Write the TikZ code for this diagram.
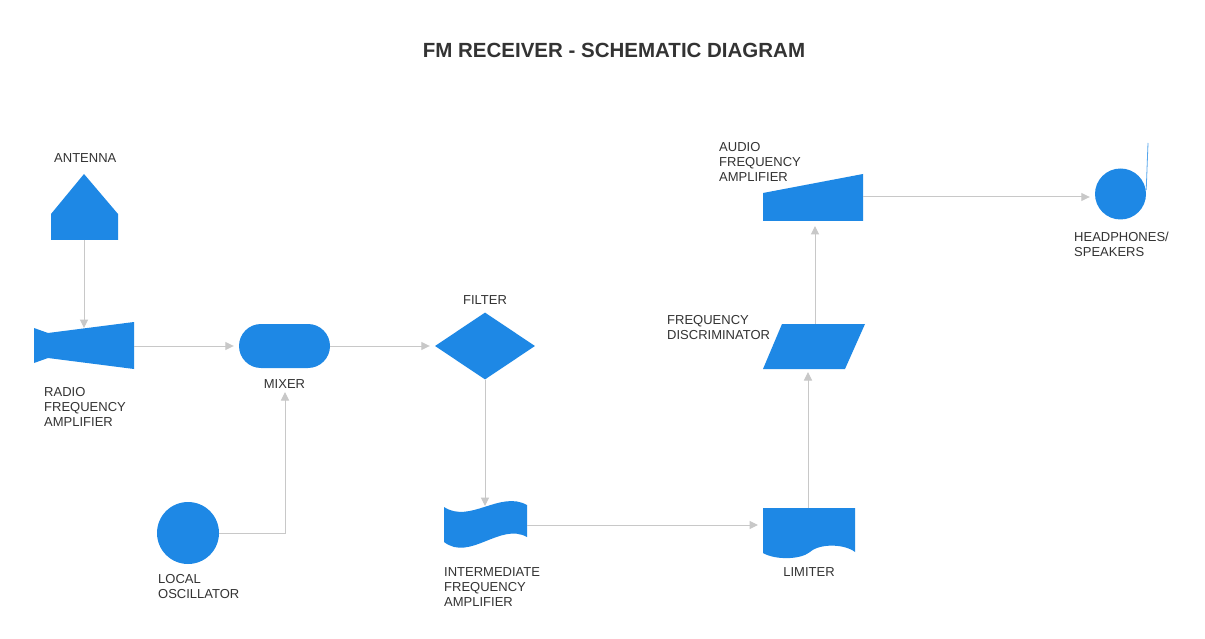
\documentclass[tikz,border=0pt]{standalone}
\usepackage{fontspec}
\setmainfont{Liberation Sans}
\usetikzlibrary{arrows.meta,shapes.geometric,shapes.misc}
\definecolor{blu}{HTML}{1E88E5}
\definecolor{lgray}{HTML}{C8C8C8}
\definecolor{txt}{HTML}{333333}
\tikzset{
 shp/.style={fill=blu,draw=none,inner sep=0pt},
 conn/.style={draw=lgray,line width=1pt,-{Triangle[length=8.5pt,width=8pt,fill=lgray]}},
 gap/.style={shorten >=5pt},
 lbl/.style={anchor=north west,inner sep=0pt,align=left,text=txt,font=\fontsize{13}{15}\selectfont},
 clbl/.style={anchor=north,inner sep=0pt,text=txt,font=\fontsize{13}{15}\selectfont},
}
\begin{document}
\begin{tikzpicture}[x=1pt,y=-1pt]
\useasboundingbox[fill=white] (0,0) rectangle (1205,639);
\node[anchor=north,inner sep=0pt,font=\bfseries\fontsize{20.5}{24}\selectfont,text=txt] (title) at (614,43) {FM RECEIVER - SCHEMATIC DIAGRAM};

% antenna
\fill[blu] (84,174) -- (118,214) -- (118,240) -- (51,240) -- (51,214) -- cycle;
\coordinate (antB) at (84,240);
\node[lbl] (antL) at (54,153) {ANTENNA};

% RF amplifier
\fill[blu] (34,328) -- (48,333) -- (134,322) -- (134,369) -- (48,358) -- (34,363) -- cycle;
\coordinate (rfT) at (84,328);
\coordinate (rfR) at (134,346);
\node[lbl] (rfL) at (44,387) {RADIO\\FREQUENCY\\AMPLIFIER};

% mixer
\node[shp,rounded rectangle,minimum width=91pt,minimum height=44pt] (mix) at (284.5,346) {};
\coordinate (mixB) at (285,392);
\node[clbl] (mixL) at (284.5,379) {MIXER};

% filter
\node[shp,diamond,minimum width=100pt,minimum height=67pt] (fil) at (485,346) {};
\node[clbl] (filL) at (485,295) {FILTER};

% local oscillator
\node[shp,circle,minimum size=62pt] (lo) at (188,533) {};
\node[lbl] (loL) at (158,574) {LOCAL\\OSCILLATOR};

% IF amplifier
\fill[blu] (444,507) .. controls (470,524) and (500,490) .. (527,505) -- (527,537)
  .. controls (500,522) and (470,562) .. (444,542) -- cycle;
\coordinate (ifT) at (485,506);
\coordinate (ifR) at (527,525);
\node[lbl] (ifL) at (444,567) {INTERMEDIATE\\FREQUENCY\\AMPLIFIER};

% limiter
\fill[blu] (763,508) -- (855,508) -- (855,552) .. controls (845,544) and (820,543) .. (810,552)
  .. controls (800,560) and (775,560) .. (763,553) -- cycle;
\coordinate (limW) at (763,525);
\coordinate (limT) at (808,508);
\node[clbl] (limL) at (809,567) {LIMITER};

% frequency discriminator
\fill[blu] (782,324) -- (865,324) -- (845,369) -- (763,369) -- cycle;
\coordinate (disB) at (808,369);
\coordinate (disT) at (815,324);
\node[lbl] (disL) at (667,315) {FREQUENCY\\DISCRIMINATOR};

% audio amplifier
\fill[blu] (763,193) -- (863,174) -- (863,221) -- (763,221) -- cycle;
\coordinate (audB) at (815,221);
\coordinate (audR) at (863,197);
\node[lbl] (audL) at (719,142) {AUDIO\\FREQUENCY\\AMPLIFIER};

% headphones
\node[shp,circle,minimum size=51pt] (hp) at (1120.5,194) {};
\draw[blu!75,line width=0.8pt] (hp.east) ++(0,-4) -- (1148,143);
\node[lbl] (hpL) at (1074,232) {HEADPHONES/\\SPEAKERS};

% connectors
\draw[conn] (antB) -- (rfT);
\draw[conn,gap] (rfR) -- (mix.west);
\draw[conn,gap] (mix.east) -- (fil.west);
\draw[conn] (lo.east) -| (mixB);
\draw[conn] (fil.south) -- (ifT);
\draw[conn,gap] (ifR) -- (limW);
\draw[conn,shorten >=3pt] (limT) -- (disB);
\draw[conn,gap] (disT) -- (audB);
\draw[conn,gap] (audR) -- (audR -| hp.west);
\end{tikzpicture}
\end{document}
